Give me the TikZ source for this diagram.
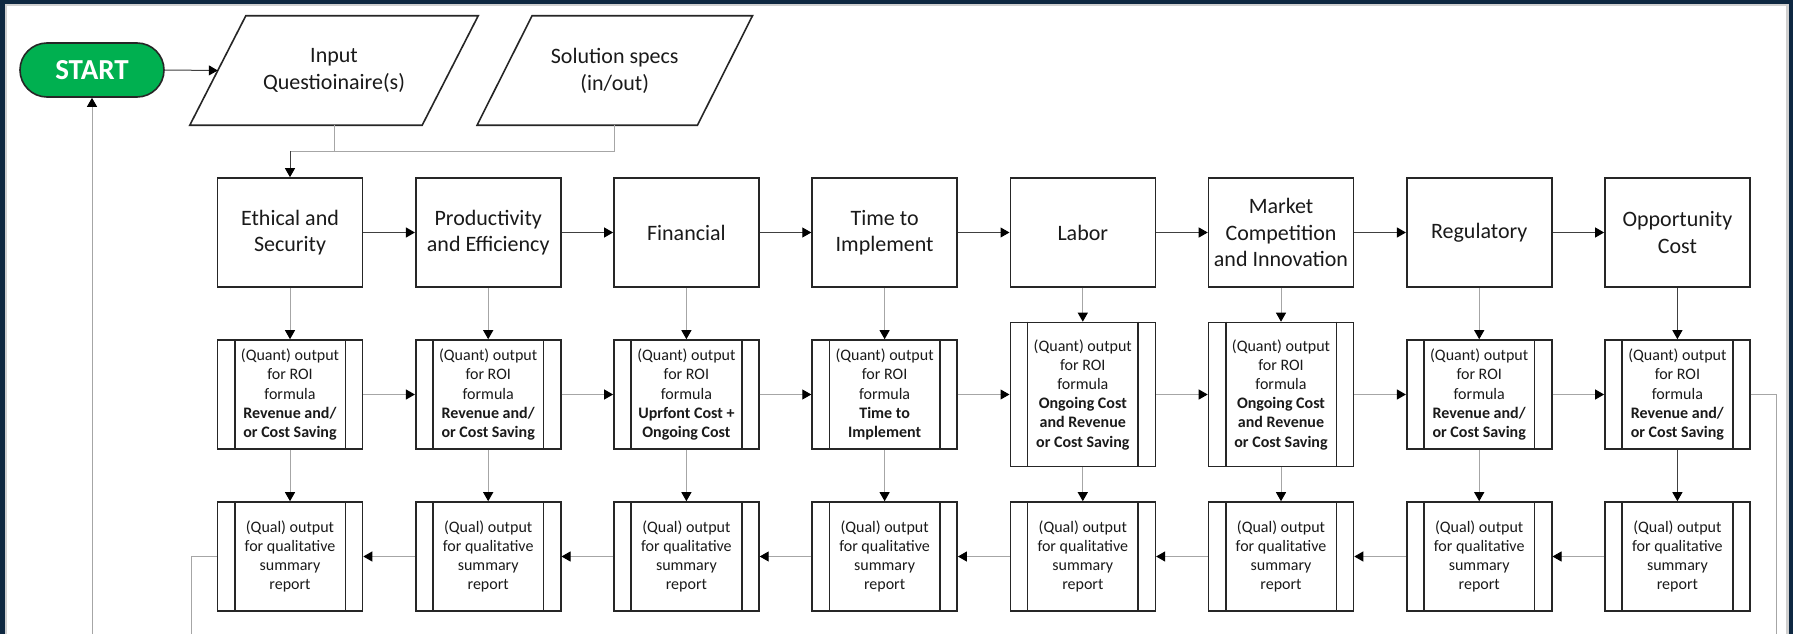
\documentclass[tikz,border=0pt]{standalone}
\usepackage{fontspec}
\setmainfont{Carlito}
\usetikzlibrary{arrows.meta}
\definecolor{frame}{HTML}{0E2841}
\definecolor{rim}{HTML}{D0D0D0}
\definecolor{ink}{HTML}{1A1A1A}
\definecolor{edge}{HTML}{262626}
\definecolor{linkgrey}{HTML}{A6A6A6}
\definecolor{linkdark}{HTML}{404040}
\definecolor{startgreen}{HTML}{00B050}

\begin{document}
\begin{tikzpicture}[x=1pt,y=-1pt,
  box/.style={draw=edge,line width=1.6pt,fill=white,minimum width=145pt,
    minimum height=109pt,inner sep=0pt,align=center,text=ink},
  catbox/.style={box,font=\fontsize{22}{26.5}\selectfont},
  procbox/.style={box,font=\fontsize{16}{19.2}\selectfont},
  tall/.style={minimum height=144pt},
  iobox/.style={inner sep=0pt,minimum height=109pt,align=center,text=ink,
    font=\fontsize{22}{27}\selectfont},
  tipend/.style={-{Triangle[length=9pt,width=10pt,color=black]}},
  lightlink/.style={draw=linkgrey,line width=1pt},
  darklink/.style={draw=linkdark,line width=1pt},
  lightflow/.style={lightlink,tipend},
  darkflow/.style={darklink,tipend}
]
\useasboundingbox (0,0) rectangle (1793,634);

% window frame and page
\fill[frame] (0,0) rectangle (1793,634);
\fill[rim] (5,4) rectangle (1789,634);
\fill[white] (7,6) rectangle (1786,634);

% start terminal
\node[draw=edge,line width=1.6pt,fill=startgreen,rounded corners=27pt,
  minimum width=144pt,minimum height=54pt,inner sep=0pt,text=white,
  font=\bfseries\fontsize{29}{32}\selectfont] (start) at (92,70) {START};

% input data (parallelograms)
\node[iobox,minimum width=232pt] (inp) at (334,70.5) {Input\\Questioinaire(s)};
\node[iobox,minimum width=220pt] (sol) at (614.75,70.5) {Solution specs\\(in/out)};
\draw[edge,line width=1.6pt,line join=miter]
  ([xshift=-28pt]inp.south west) -- ([xshift=-28pt]inp.south east)
  -- ([xshift=28pt]inp.north east) -- ([xshift=28pt]inp.north west) -- cycle;
\draw[edge,line width=1.6pt,line join=miter]
  ([xshift=-27.5pt]sol.south west) -- ([xshift=-27.5pt]sol.south east)
  -- ([xshift=27.5pt]sol.north east) -- ([xshift=27.5pt]sol.north west) -- cycle;

% assessment categories
\node[catbox] (c1) at (290,232.5)    {Ethical and\\Security};
\node[catbox] (c2) at (488.2,232.5)  {Productivity\\and Efficiency};
\node[catbox] (c3) at (686.4,232.5)  {Financial};
\node[catbox] (c4) at (884.6,232.5)  {Time to\\Implement};
\node[catbox] (c5) at (1082.8,232.5) {Labor};
\node[catbox] (c6) at (1281,232.5)   {Market\\Competition\\and Innovation};
\node[catbox] (c7) at (1479.2,232.5) {Regulatory};
\node[catbox] (c8) at (1677.4,232.5) {Opportunity\\Cost};

% quantitative outputs
\node[procbox] (q1) at (290,394.5)    {(Quant) output\\for ROI\\formula\\\textbf{Revenue and/}\\\textbf{or Cost Saving}};
\node[procbox] (q2) at (488.2,394.5)  {(Quant) output\\for ROI\\formula\\\textbf{Revenue and/}\\\textbf{or Cost Saving}};
\node[procbox] (q3) at (686.4,394.5)  {(Quant) output\\for ROI\\formula\\\textbf{Uprfont Cost +}\\\textbf{Ongoing Cost}};
\node[procbox] (q4) at (884.6,394.5)  {(Quant) output\\for ROI\\formula\\\textbf{Time to}\\\textbf{Implement}};
\node[procbox,tall] (q5) at (1082.8,394.5) {(Quant) output\\for ROI\\formula\\\textbf{Ongoing Cost}\\\textbf{and Revenue}\\\textbf{or Cost Saving}};
\node[procbox,tall] (q6) at (1281,394.5)   {(Quant) output\\for ROI\\formula\\\textbf{Ongoing Cost}\\\textbf{and Revenue}\\\textbf{or Cost Saving}};
\node[procbox] (q7) at (1479.2,394.5) {(Quant) output\\for ROI\\formula\\\textbf{Revenue and/}\\\textbf{or Cost Saving}};
\node[procbox] (q8) at (1677.4,394.5) {(Quant) output\\for ROI\\formula\\\textbf{Revenue and/}\\\textbf{or Cost Saving}};

% qualitative outputs
\foreach \n/\x in {r1/290,r2/488.2,r3/686.4,r4/884.6,r5/1082.8,r6/1281,r7/1479.2,r8/1677.4}
  \node[procbox] (\n) at (\x,556.5) {(Qual) output\\for qualitative\\summary\\report};

% side bars of the predefined-process boxes
\foreach \n in {q1,q2,q3,q4,q5,q6,q7,q8,r1,r2,r3,r4,r5,r6,r7,r8}
  \draw[edge,line width=1.6pt]
    ([xshift=18pt]\n.north west) -- ([xshift=18pt]\n.south west)
    ([xshift=-18pt]\n.north east) -- ([xshift=-18pt]\n.south east);

% connectors
\draw[darkflow] (start.east) -- (inp.west);
\coordinate (join) at (290,151);
\draw[lightlink] (sol.south) |- (join);
\draw[lightlink] (inp.south) |- (join);
\draw[darkflow] (join) -- (c1.north);

\foreach \a/\b in {c1/c2,c2/c3,c3/c4,c4/c5,c5/c6,c6/c7,c7/c8}
  \draw[darkflow] (\a.east) -- (\b.west);
\foreach \a/\b in {q1/q2,q2/q3,q3/q4,q4/q5,q5/q6,q6/q7,q7/q8}
  \draw[lightflow] (\a.east) -- (\b.west);
\foreach \a/\b in {r2/r1,r3/r2,r4/r3,r5/r4,r6/r5,r7/r6,r8/r7}
  \draw[lightflow] (\a.west) -- (\b.east);
\foreach \i in {1,...,7} {
  \draw[lightflow] (c\i.south) -- (q\i.north);
  \draw[lightflow] (q\i.south) -- (r\i.north);
}
\draw[darkflow] (c8.south) -- (q8.north);
\draw[darkflow] (q8.south) -- (r8.north);

% hand-offs leaving the page and the return to start
\coordinate (rightexit) at (1776,634);
\coordinate (leftexit) at (191,634);
\coordinate (loopback) at (92,634);
\draw[lightlink] (q8.east) -| (rightexit);
\draw[lightlink] (r1.west) -| (leftexit);
\draw[lightflow] (loopback) -- (start.south);
\end{tikzpicture}
\end{document}
